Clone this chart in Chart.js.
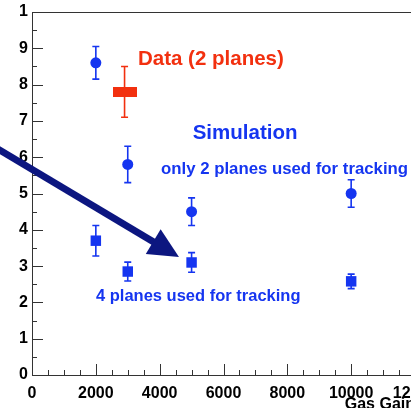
<!DOCTYPE html>
<html>
<head>
<meta charset="utf-8">
<script src="https://cdn.jsdelivr.net/npm/chart.js@4"></script>
<style>
  html, body { margin: 0; padding: 0; overflow: hidden; background: #fff; width: 411px; height: 408px; }
  canvas { display: block; }
</style>
</head>
<body>
<canvas id="c" width="440" height="425"></canvas>
<script>
// Simulated resolution vs gas gain
const gainsSim = [2000, 3000, 5000, 10000];
const twoPlanes = [8.6, 5.8, 4.5, 5.0];
const twoPlanesErr = [0.45, 0.5, 0.38, 0.38];
const fourPlanes = [3.7, 2.85, 3.1, 2.58];
const fourPlanesErr = [0.42, 0.26, 0.27, 0.2];

// Measured (2 planes)
const gainsData = [2900];
const dataPlanes = [7.8];
const dataPlanesErr = [0.7];

// Axis tick labels
const yTickLabels = ['0', '1', '2', '3', '4', '5', '6', '7', '8', '9', '1'];
const xTickLabels = ['0', '2000', '4000', '6000', '8000', '10000', '12000'];

const BLUE = '#1535f0';
const RED = '#f2300f';
const NAVY = '#0c1680';
const FONT = '"Liberation Sans", Arial, Helvetica, sans-serif';

const toPoints = (xs, ys) => xs.map((x, i) => ({ x, y: ys[i] }));

// Wide filled box used as the marker of the measured point
const dataMarker = document.createElement('canvas');
dataMarker.width = 24; dataMarker.height = 10;
(() => { const g = dataMarker.getContext('2d'); g.fillStyle = RED; g.fillRect(0, 0, 24, 10); })();

// Vertical error bars with small caps, drawn under the markers
const errorBars = {
  id: 'errorBars',
  beforeDatasetsDraw(chart) {
    const { ctx, scales: { x: xs, y: ys } } = chart;
    chart.data.datasets.forEach(ds => {
      if (!ds.errors) return;
      ctx.save();
      ctx.strokeStyle = ds.borderColor;
      ctx.lineWidth = 1.6;
      ds.data.forEach((p, i) => {
        const x = xs.getPixelForValue(p.x);
        const y1 = ys.getPixelForValue(p.y + ds.errors[i]);
        const y2 = ys.getPixelForValue(p.y - ds.errors[i]);
        ctx.beginPath();
        ctx.moveTo(x, y1); ctx.lineTo(x, y2);
        ctx.moveTo(x - 3.5, y1); ctx.lineTo(x + 3.5, y1);
        ctx.moveTo(x - 3.5, y2); ctx.lineTo(x + 3.5, y2);
        ctx.stroke();
      });
      ctx.restore();
    });
  }
};

// Frame with inward ticks (major and minor)
const frameTicks = {
  id: 'frameTicks',
  beforeDatasetsDraw(chart) {
    const { ctx, chartArea: a, scales: { x: xs, y: ys } } = chart;
    ctx.save();
    ctx.strokeStyle = '#333';
    ctx.lineWidth = 1;
    ctx.strokeRect(Math.round(a.left) + 0.5, Math.round(a.top) + 0.5,
                   Math.round(a.right - a.left), Math.round(a.bottom - a.top));
    ctx.beginPath();
    for (let v = 0; v <= 12000; v += 500) {
      const px = Math.round(xs.getPixelForValue(v)) + 0.5;
      const len = v % 2000 === 0 ? 11 : 5;
      ctx.moveTo(px, a.bottom); ctx.lineTo(px, a.bottom - len);
    }
    for (let v = 0; v <= 10; v += 0.5) {
      const py = Math.round(ys.getPixelForValue(v)) + 0.5;
      const len = Number.isInteger(v) ? 11 : 5;
      ctx.moveTo(a.left, py); ctx.lineTo(a.left + len, py);
    }
    ctx.stroke();
    ctx.restore();
  }
};

// Text labels and the arrow, anchored in data coordinates
const notes = [
  { text: 'Data (2 planes)', x: 3321, y: 8.53, color: RED, size: 20.5 },
  { text: 'Simulation', x: 5034, y: 6.49, color: BLUE, size: 20.5 },
  { text: 'only 2 planes used for tracking', x: 4041, y: 5.53, color: BLUE, size: 16.8 },
  { text: '4 planes used for tracking', x: 2005, y: 2.05, color: BLUE, size: 16.5 }
];
const arrow = { from: { x: -1629, y: 6.52 }, to: { x: 4605, y: 3.25 } };

const annotations = {
  id: 'annotations',
  afterDatasetsDraw(chart) {
    const { ctx, scales: { x: xs, y: ys } } = chart;
    ctx.save();
    ctx.textAlign = 'left';
    ctx.textBaseline = 'alphabetic';
    notes.forEach(n => {
      ctx.font = `bold ${n.size}px ${FONT}`;
      ctx.fillStyle = n.color;
      ctx.fillText(n.text, xs.getPixelForValue(n.x), ys.getPixelForValue(n.y));
    });
    const x0 = xs.getPixelForValue(arrow.from.x), y0 = ys.getPixelForValue(arrow.from.y);
    const x1 = xs.getPixelForValue(arrow.to.x), y1 = ys.getPixelForValue(arrow.to.y);
    const ang = Math.atan2(y1 - y0, x1 - x0);
    const headLen = 30, headHalf = 14.5;
    const bx = x1 - headLen * Math.cos(ang), by = y1 - headLen * Math.sin(ang);
    ctx.strokeStyle = NAVY;
    ctx.fillStyle = NAVY;
    ctx.lineWidth = 7;
    ctx.beginPath();
    ctx.moveTo(x0, y0); ctx.lineTo(bx + 2 * Math.cos(ang), by + 2 * Math.sin(ang));
    ctx.stroke();
    ctx.beginPath();
    ctx.moveTo(x1, y1);
    ctx.lineTo(bx + headHalf * Math.sin(ang), by - headHalf * Math.cos(ang));
    ctx.lineTo(bx - headHalf * Math.sin(ang), by + headHalf * Math.cos(ang));
    ctx.closePath();
    ctx.fill();
    ctx.restore();
  }
};

new Chart(document.getElementById('c'), {
  type: 'scatter',
  data: {
    datasets: [
      {
        label: 'only 2 planes used for tracking',
        data: toPoints(gainsSim, twoPlanes),
        errors: twoPlanesErr,
        pointStyle: 'circle', pointRadius: 5.5, pointHoverRadius: 5.5,
        backgroundColor: BLUE, borderColor: BLUE, borderWidth: 0
      },
      {
        label: '4 planes used for tracking',
        data: toPoints(gainsSim, fourPlanes),
        errors: fourPlanesErr,
        pointStyle: 'rect', pointRadius: 7.4, pointHoverRadius: 7.4,
        backgroundColor: BLUE, borderColor: BLUE, borderWidth: 0
      },
      {
        label: 'Data (2 planes)',
        data: toPoints(gainsData, dataPlanes),
        errors: dataPlanesErr,
        pointStyle: dataMarker, pointRadius: 12,
        backgroundColor: RED, borderColor: RED, borderWidth: 0
      }
    ]
  },
  options: {
    responsive: false,
    animation: false,
    events: [],
    layout: { padding: { top: 11.5, right: 25, left: 0, bottom: 0 } },
    plugins: { legend: { display: false }, tooltip: { enabled: false } },
    scales: {
      x: {
        type: 'linear', min: 0, max: 12000,
        border: { display: false },
        grid: { display: false, drawTicks: false },
        afterFit(scale) { scale.height = 50; scale.paddingLeft = 0; scale.paddingRight = 0; },
        ticks: {
          stepSize: 2000, autoSkip: false, maxRotation: 0, padding: 9,
          color: '#000', font: { family: FONT, size: 16, weight: 'bold' },
          callback: v => xTickLabels[Math.round(v / 2000)]
        },
        title: {
          display: true, text: 'Gas Gain', align: 'end', color: '#000',
          font: { family: FONT, size: 16, weight: 'bold' },
          padding: { top: 0, bottom: 11 }
        }
      },
      y: {
        type: 'linear', min: 0, max: 10,
        border: { display: false },
        grid: { display: false, drawTicks: false },
        afterFit(scale) { scale.width = 32; scale.paddingTop = 0; scale.paddingBottom = 0; },
        ticks: {
          stepSize: 1, autoSkip: false, padding: 4,
          color: '#000', font: { family: FONT, size: 16, weight: 'bold' },
          callback: v => yTickLabels[Math.round(v)]
        }
      }
    }
  },
  plugins: [frameTicks, errorBars, annotations]
});
</script>
</body>
</html>
